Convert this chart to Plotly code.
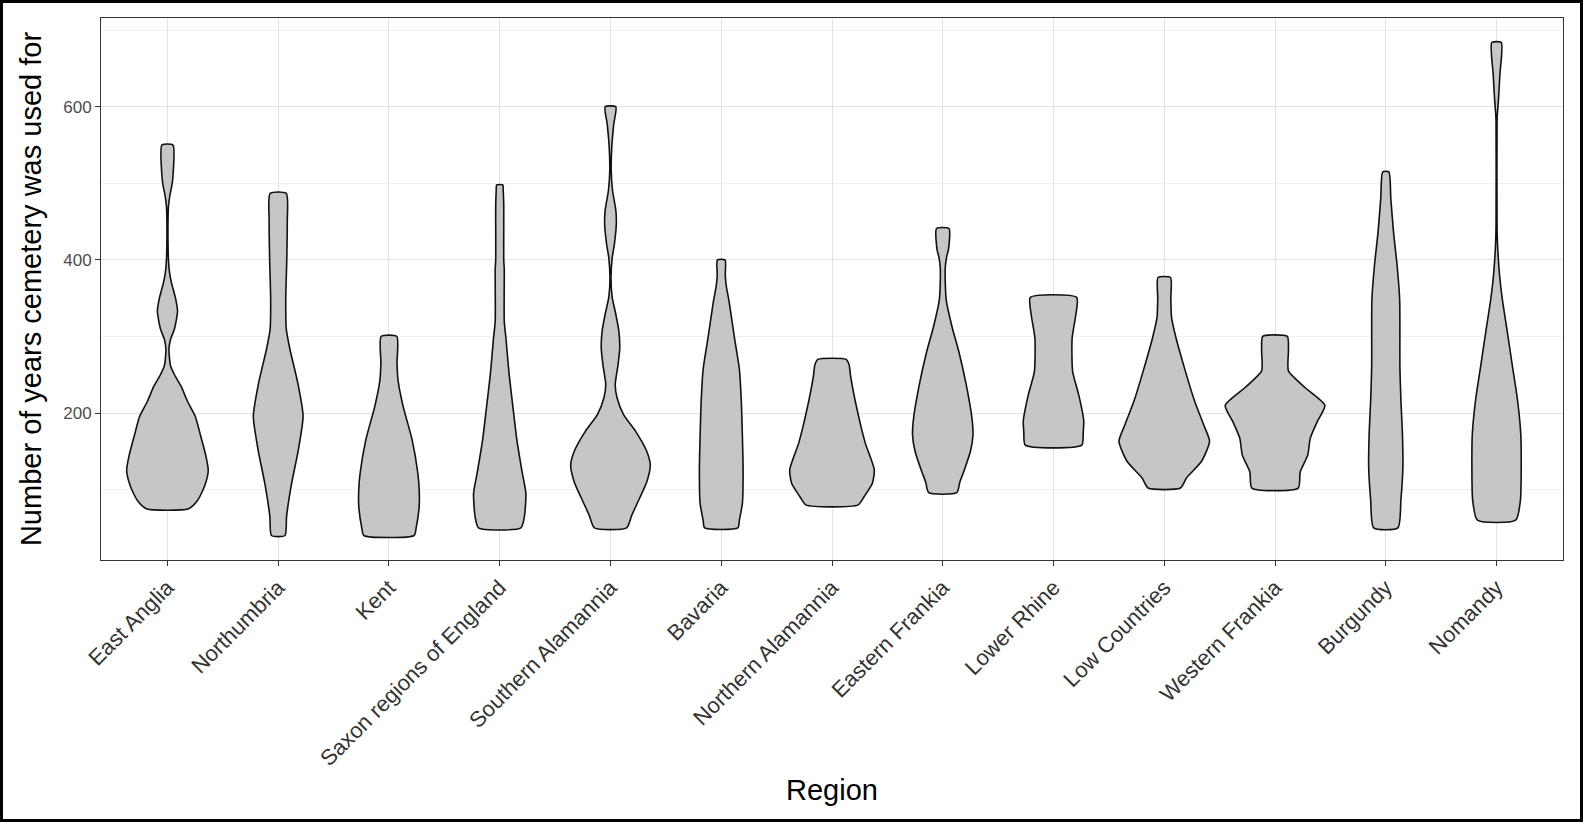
import plotly.graph_objects as go

regions = ["East Anglia", "Northumbria", "Kent", "Saxon regions of England",
           "Southern Alamannia", "Bavaria", "Northern Alamannia", "Eastern Frankia",
           "Lower Rhine", "Low Countries", "Western Frankia", "Burgundy", "Nomandy"]

# density profiles: years (y) and relative density (d)
east_anglia_y = [75, 86, 105, 125, 145, 170, 196, 215, 235, 250, 262, 283, 296, 310, 333, 350, 370, 384, 400, 436, 470, 485, 498, 510, 550]
east_anglia_d = [21, 30, 37, 40.5, 38, 33, 27.5, 20, 13.5, 7, 3, 1.5, 3, 7, 10, 8, 4, 2, 1, 0.5, 1, 2.5, 4.5, 5.5, 5.5]

northumbria_y = [40, 65, 108, 152, 196, 239, 283, 310, 350, 400, 450, 487]
northumbria_d = [6.7, 8.3, 13.3, 20, 24.7, 19.5, 11.7, 8, 7.5, 8.5, 9, 8]

kent_y = [40, 50, 78, 100, 121, 165, 209, 243, 265, 300]
kent_d = [25, 27, 30, 30, 28.7, 23, 14, 9, 8, 7.8]

saxon_y = [50, 65, 95, 121, 165, 209, 252, 296, 320, 388, 400, 470, 490, 498]
saxon_d = [21, 24.5, 26, 22.5, 17, 13, 9.2, 6.3, 4.5, 4.5, 4, 4, 3.5, 3]

s_alamannia_y = [50, 66, 89, 110, 132, 150, 176, 198, 220, 237, 263, 285, 307, 329, 351, 377, 403, 420, 447, 465, 491, 517, 548, 578, 600]
s_alamannia_d = [16, 21, 29, 36, 39.5, 36, 25, 13, 6.5, 4.7, 7.5, 9.2, 8.3, 5.3, 1.7, 0.5, 1.7, 3.8, 5.8, 5.3, 2, 0.7, 1.3, 3.3, 5.3]

bavaria_y = [50, 60, 82, 126, 170, 213, 257, 301, 344, 366, 380, 400]
bavaria_d = [16.5, 18, 21, 21.7, 21, 20, 18, 12.8, 8, 5, 4, 3.8]

n_alamannia_y = [80, 91, 108, 126, 161, 204, 248, 263, 270]
n_alamannia_d = [26, 32, 40, 42, 33, 25, 18.5, 17, 14]

e_frankia_y = [96, 110, 124, 150, 171, 193, 237, 281, 311, 347, 370, 390, 405, 412, 441]
e_frankia_d = [14, 17, 21, 27.5, 30, 29, 23.3, 15.8, 9.5, 3.5, 2.5, 2.5, 4, 5.5, 6.2]

lower_rhine_y = [158, 175, 190, 224, 254, 298, 327, 351]
lower_rhine_d = [28, 29.5, 30, 25, 19, 18.5, 22, 23]

low_countries_y = [102, 115, 137, 163, 185, 216, 259, 298, 325, 350, 377]
low_countries_d = [16, 22, 37, 45, 39, 30, 20, 11.7, 7.2, 6.5, 6.2]

w_frankia_y = [102, 123, 145, 167, 189, 210, 233, 255, 281, 300]
w_frankia_d = [23, 25, 32.5, 35, 42, 49.5, 30, 13.3, 13.3, 12.2]

burgundy_y = [50, 86, 130, 174, 217, 261, 305, 348, 392, 436, 480, 515]
burgundy_d = [12, 15, 17, 16.5, 15, 14, 14, 13.8, 11.3, 7.7, 5, 3]

normandy_y = [60, 86, 130, 174, 217, 261, 305, 348, 380, 420, 445, 580, 590, 611, 642, 684]
normandy_d = [19, 23.7, 24.5, 24, 20.8, 15.8, 10.8, 5.8, 3, 1, 0.5, 0.5, 0.8, 2, 3.3, 4.7]

profiles = [
    (east_anglia_y, east_anglia_d), (northumbria_y, northumbria_d), (kent_y, kent_d),
    (saxon_y, saxon_d), (s_alamannia_y, s_alamannia_d), (bavaria_y, bavaria_d),
    (n_alamannia_y, n_alamannia_d), (e_frankia_y, e_frankia_d), (lower_rhine_y, lower_rhine_d),
    (low_countries_y, low_countries_d), (w_frankia_y, w_frankia_d), (burgundy_y, burgundy_d),
    (normandy_y, normandy_d),
]

y_ticks = [200, 400, 600]

# largest density maps to a half-width of 0.45 category (ggplot width 0.9)
max_d = max(max(d) for _, d in profiles)
scale = 0.45 / max_d

fig = go.Figure()
for i, (ys, ds) in enumerate(profiles):
    xr = [i + d * scale for d in ds]
    xl = [i - d * scale for d in ds]
    xs = xr + xl[::-1] + [xr[0]]
    yy = list(ys) + list(ys)[::-1] + [ys[0]]
    fig.add_trace(go.Scatter(
        x=xs, y=yy, mode="lines", fill="toself",
        fillcolor="#C6C6C6", line=dict(color="#111111", width=1.6, shape="spline", smoothing=0.6),
        hoverinfo="skip", showlegend=False))

W, H = 1583, 822
ml, mr, mt, mb = 101, 20, 18, 262
pw, ph = W - ml - mr, H - mt - mb

fig.update_layout(
    width=W, height=H,
    margin=dict(l=ml, r=mr, t=mt, b=mb, autoexpand=False),
    paper_bgcolor="white", plot_bgcolor="white",
    font=dict(family="Liberation Sans, Arial, sans-serif", color="#000000"),
    xaxis=dict(
        range=[-0.6, len(regions) - 0.4], tickmode="array",
        tickvals=list(range(len(regions))), ticktext=regions,
        tickangle=-45, tickfont=dict(size=22, color="#333333"),
        showgrid=True, gridcolor="#E3E3E3", gridwidth=1.3,
        ticks="outside", ticklen=5, tickcolor="#333333",
        showline=True, linecolor="#333333", linewidth=1, mirror=True,
        zeroline=False, automargin=False,
        title=dict(text="Region", font=dict(size=29, color="#000000"), standoff=9),
    ),
    yaxis=dict(
        range=[8, 716], tickmode="array", tickvals=y_ticks,
        tickfont=dict(size=17, color="#4D4D4D"),
        showgrid=True, gridcolor="#E3E3E3", gridwidth=1.3,
        minor=dict(dtick=100, tick0=0, showgrid=True, gridcolor="#F0F0F0", gridwidth=0.8),
        ticks="outside", ticklen=5, tickcolor="#333333",
        showline=True, linecolor="#333333", linewidth=1, mirror=True,
        zeroline=False, automargin=False,
        title=dict(text="Number of years cemetery was used for",
                   font=dict(size=29, color="#000000"), standoff=13),
    ),
    shapes=[dict(
        type="rect", xref="paper", yref="paper",
        x0=(1.5 - ml) / pw, x1=(W - 1.5 - ml) / pw,
        y0=-(mb - 1.5) / ph, y1=1 + (mt - 1.5) / ph,
        line=dict(color="black", width=3), fillcolor="rgba(0,0,0,0)", layer="above")],
)

fig.write_html("out.html", config={"displayModeBar": False},
               post_script="document.body.style.margin='0';document.body.style.overflow='hidden';")
